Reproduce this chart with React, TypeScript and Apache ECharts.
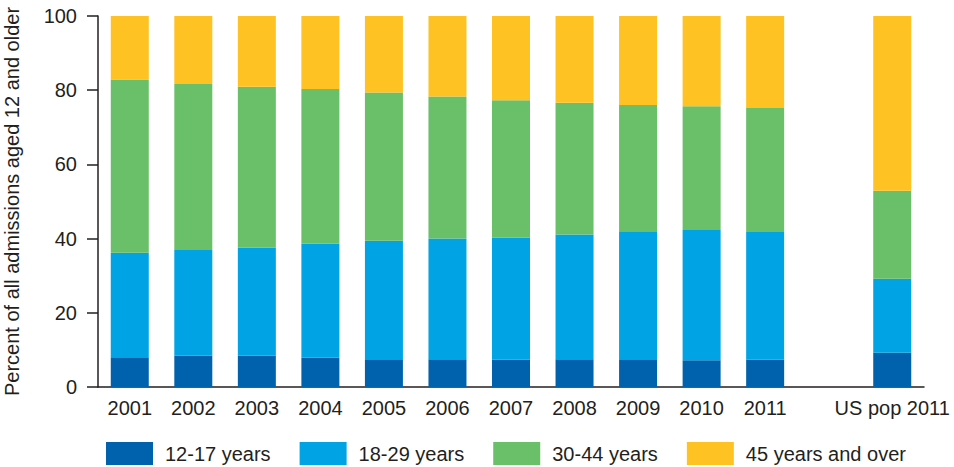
import * as echarts from 'echarts';
import { useEffect, useRef } from 'react';

const categories = ['2001', '2002', '2003', '2004', '2005', '2006', '2007', '2008', '2009', '2010', '2011', '', 'US pop 2011'];
const seriesNames = ['12-17 years', '18-29 years', '30-44 years', '45 years and over'];

// share of each age group, percent (the empty slot is a spacer before the population bar)
const age12to17 = [8.0, 8.4, 8.4, 7.9, 7.5, 7.5, 7.4, 7.5, 7.5, 7.2, 7.4, null, 9.2];
const age18to29 = [28.2, 28.5, 29.2, 30.8, 31.9, 32.5, 32.9, 33.6, 34.5, 35.1, 34.4, null, 20.0];
const age30to44 = [46.7, 44.8, 43.3, 41.6, 40.0, 38.3, 37.0, 35.5, 34.0, 33.4, 33.4, null, 23.7];
const age45plus = [17.1, 18.3, 19.1, 19.7, 20.6, 21.7, 22.7, 23.4, 24.0, 24.3, 24.8, null, 47.1];

const yTicks = [0, 20, 40, 60, 80, 100];

const colors = ['#0062AC', '#00A3E3', '#6ABF69', '#FFC222'];
const font = 'Liberation Sans, Arial, Helvetica, sans-serif';
const ink = '#231F20';

export default function App() {
  const container = useRef<HTMLDivElement>(null);

  useEffect(() => {
    document.body.style.margin = '0';
    const element = container.current;
    if (!element) return undefined;
    const chart = echarts.init(element, undefined, { renderer: 'svg' });
    const values = [age12to17, age18to29, age30to44, age45plus];

    chart.setOption({
      animation: false,
      grid: { left: 98, right: 30, top: 16, bottom: 80, containLabel: false, outerBoundsMode: 'none' },
      legend: {
        left: 101,
        top: 437,
        itemWidth: 47,
        itemHeight: 23,
        itemGap: 29,
        icon: 'rect',
        textStyle: { fontFamily: font, fontSize: 20, color: ink, padding: [0, 0, 0, 7] },
        data: seriesNames,
      },
      xAxis: {
        type: 'category',
        data: categories,
        axisLine: { lineStyle: { color: ink, width: 1.5 } },
        axisTick: { show: false },
        axisLabel: { fontFamily: font, fontSize: 20, color: ink, margin: 11, interval: 0 },
      },
      yAxis: {
        type: 'value',
        min: yTicks[0],
        max: yTicks[yTicks.length - 1],
        interval: 20,
        name: 'Percent of all admissions aged 12 and older',
        nameLocation: 'middle',
        nameGap: 76,
        nameTextStyle: { fontFamily: font, fontSize: 20, color: ink },
        axisLine: { show: true, lineStyle: { color: ink, width: 1.5 } },
        axisTick: { show: true, length: 11, lineStyle: { color: ink, width: 1.5 } },
        axisLabel: { fontFamily: font, fontSize: 20, color: ink, margin: 21 },
        splitLine: { show: false },
      },
      series: seriesNames.map((name, i) => ({
        name,
        type: 'bar',
        stack: 'total',
        barWidth: 38,
        itemStyle: { color: colors[i] },
        data: values[i],
      })),
    });

    return () => chart.dispose();
  }, []);

  return <div ref={container} style={{ width: 954, height: 467 }} />;
}
